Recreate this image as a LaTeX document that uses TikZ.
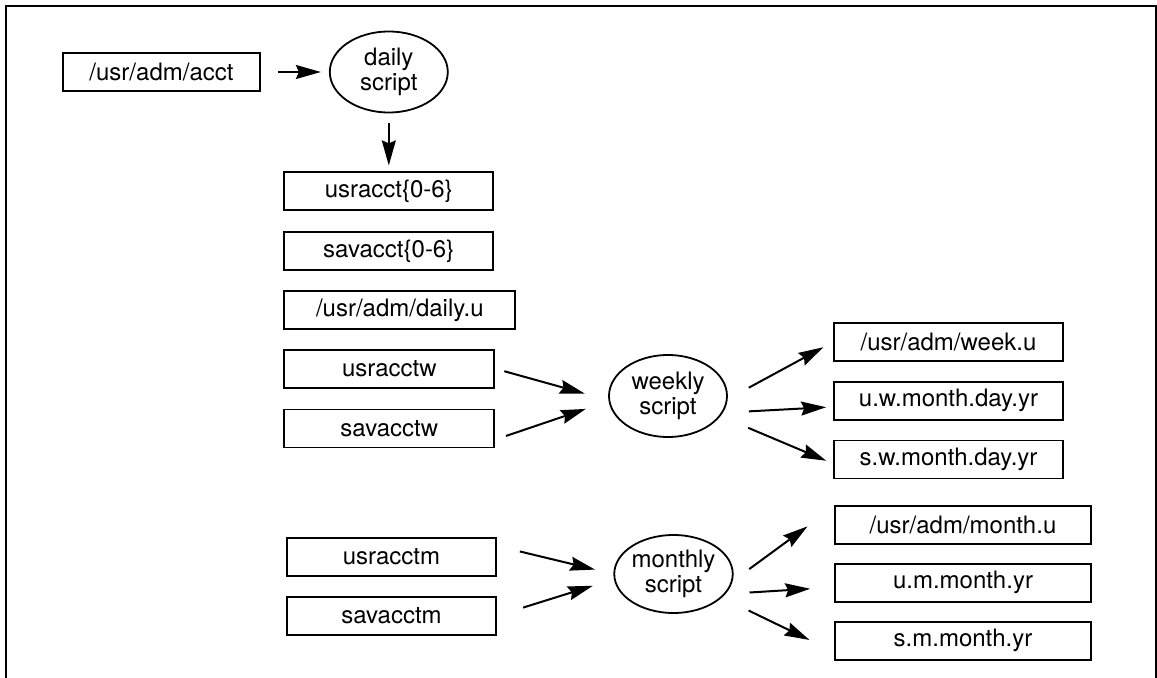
\documentclass[tikz,border=0pt]{standalone}
\usepackage{fontspec}
\setmainfont{TeX Gyre Heros}
\usetikzlibrary{positioning}
\usetikzlibrary{arrows.meta}
\usetikzlibrary{shapes.geometric}

\begin{document}
\begin{tikzpicture}[x=0.5pt, y=-0.5pt,
    font=\fontsize{12}{12.5}\selectfont,
    filebox/.style={draw, rectangle, line width=0.9pt, minimum height=19pt, inner sep=0pt},
    prog/.style={draw, ellipse, line width=0.9pt, align=center, inner sep=0pt},
    flow/.style={-{Stealth[length=12.5pt, width=7pt, inset=1.5pt]}, line width=1pt}]
    \useasboundingbox (0,0) rectangle (1157,678);
    % Frame (open at the bottom)
    \draw[line width=1pt] (6,678) -- (6,6) -- (1156,6) -- (1156,678);

    % Daily run
    \node (acct) [filebox, minimum width=98.5pt] at (161.5,72) {/usr/adm/acct};
    \node (daily) [prog, right=34pt of acct, minimum width=59pt, minimum height=40.5pt] {daily\\script};
    \node (usr0) [filebox, below=29pt of daily, minimum width=104.5pt] {usracct\{0-6\}};
    \node (sav0) [filebox, below=10pt of usr0, minimum width=104.5pt] {savacct\{0-6\}};
    \node (dailyu) [filebox, below right=9.5pt and 0pt of sav0.south west, minimum width=115.5pt] {/usr/adm/daily.u};
    \draw[flow, shorten <=8.5pt, shorten >=4pt] (acct) -- (daily);
    \draw[flow, shorten <=5pt, shorten >=3pt] (daily) -- (usr0);

    % Weekly run
    \node (usrw) [filebox, below right=9.5pt and 0pt of dailyu.south west, minimum width=105pt] {usracctw};
    \node (savw) [filebox, below=10pt of usrw, minimum width=105pt] {savacctw};
    \node (weekly) [prog, minimum width=59pt, minimum height=41pt] at (668,396) {weekly\\script};
    \node (weeku) [filebox, minimum width=114.5pt] at (948.5,342) {/usr/adm/week.u};
    \node (uw) [filebox, below=9.5pt of weeku, minimum width=114.5pt] {u.w.month.day.yr};
    \node (sw) [filebox, below=9.5pt of uw, minimum width=114.5pt] {s.w.month.day.yr};
    \draw[flow, shorten <=4.7pt, shorten >=12.3pt] (usrw.east) -- (weekly.184);
    \draw[flow, shorten <=5.7pt, shorten >=12pt] (savw.-6) -- (weekly.185);
    \draw[flow, shorten <=12pt, shorten >=5.5pt] (weekly.-3) -- (weeku.west);
    \draw[flow, shorten <=13pt, shorten >=3.5pt] (weekly.-17) -- (uw.183);
    \draw[flow, shorten <=15pt, shorten >=3.7pt] (weekly.-21) -- (sw.182);

    % Monthly run
    \node (usrm) [filebox, minimum width=104.5pt] at (391.5,557) {usracctm};
    \node (savm) [filebox, below=9.5pt of usrm, minimum width=104.5pt] {savacctm};
    \node (monthly) [prog, minimum width=58.5pt, minimum height=39pt] at (673.5,574) {monthly\\script};
    \node (monthu) [filebox, minimum width=128pt] at (963,525) {/usr/adm/month.u};
    \node (um) [filebox, below=9pt of monthu, minimum width=128pt] {u.m.month.yr};
    \node (sm) [filebox, below=9pt of um, minimum width=128pt] {s.m.month.yr};
    \draw[flow, shorten <=11.8pt, shorten >=9.4pt] (usrm.6) -- (monthly.west);
    \draw[flow, shorten <=13.7pt, shorten >=11pt] (savm.east) -- (monthly.185);
    \draw[flow, shorten <=10.3pt, shorten >=16.5pt] (monthly.-7) -- (monthu.172);
    \draw[flow, shorten <=12pt, shorten >=12pt] (monthly.-21) -- (um.182);
    \draw[flow, shorten <=14.8pt, shorten >=13.7pt] (monthly.-26) -- (sm.185);
\end{tikzpicture}
\end{document}
